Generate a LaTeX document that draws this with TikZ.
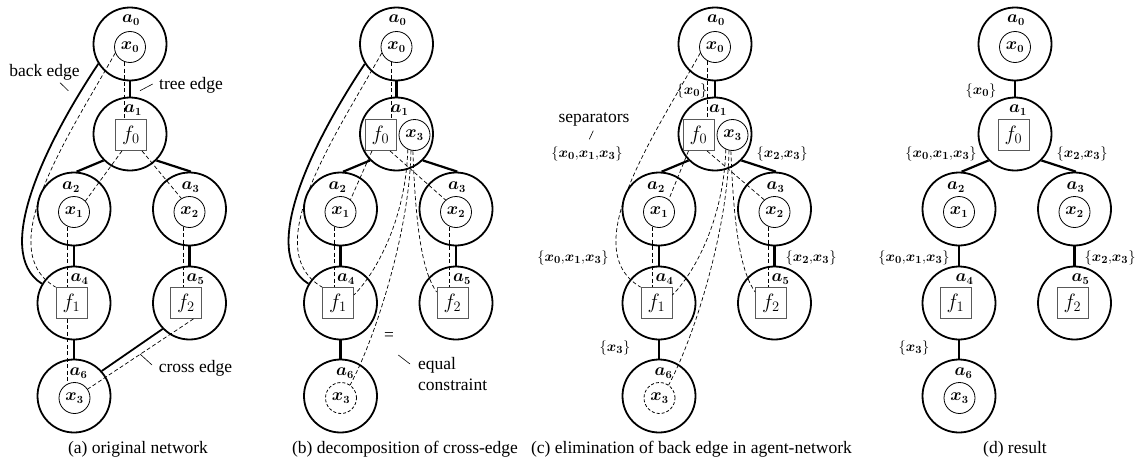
\documentclass[tikz,border=0pt]{standalone}
\usepackage{amsmath}
\usepackage[no-math]{fontspec}
\setmainfont{Liberation Serif}
\usetikzlibrary{calc}

\newcommand{\mfont}{\fontsize{16}{19}\selectfont\boldmath}
\newcommand{\ffont}{\fontsize{20}{23}\selectfont}
\newcommand{\sfont}{\fontsize{15}{18}\selectfont}
\newcommand{\tfont}{\fontsize{17.5}{21}\selectfont}
\newcommand{\bx}[1]{\boldsymbol{x_{#1}}}
\newcommand{\cm}{\mathord{,}}

\tikzset{
  agent/.style={circle, draw, line width=1.8pt, minimum size=73pt, inner sep=0pt},
  var/.style={circle, draw, line width=0.8pt, minimum size=31pt, inner sep=0pt, font=\mfont},
  dvar/.style={var, dash pattern=on 3pt off 2pt},
  fac/.style={rectangle, draw=black!65, line width=0.8pt, minimum size=31pt, inner sep=0pt, font=\ffont},
  tree/.style={line width=2.2pt},
  thickline/.style={line width=1.8pt},
  con/.style={line width=0.7pt, dash pattern=on 4pt off 2.5pt},
  lab/.style={inner sep=0pt, font=\mfont},
  sep/.style={inner sep=0pt, font=\sfont},
  txt/.style={inner sep=0pt, font=\tfont},
  lead/.style={line width=0.6pt},
}

% agents a0..a6 of one panel, their names and the tree edges between them
\newcommand{\agents}[1]{%
  \node[agent] (#1a0) at (0,44) {};
  \node[agent] (#1a1) at (0,134) {};
  \node[agent] (#1a2) at (-56,209) {};
  \node[agent] (#1a3) at (59.5,209) {};
  \node[agent] (#1a4) at (-56,303) {};
  \node[agent] (#1a5) at (59.5,303) {};
  \node[agent] (#1a6) at (-56,396) {};
  \node[lab] (#1l0) at ([shift={(1,-24)}]#1a0.center) {$a_0$};
  \node[lab] (#1l1) at ([shift={(3,-24)}]#1a1.center) {$a_1$};
  \node[lab] (#1l2) at ([shift={(-3,-22)}]#1a2.center) {$a_2$};
  \node[lab] (#1l3) at ([shift={(1,-22)}]#1a3.center) {$a_3$};
  \node[lab] (#1l4) at ([shift={(5.5,-24)}]#1a4.center) {$a_4$};
  \node[lab] (#1l5) at ([shift={(6,-24)}]#1a5.center) {$a_5$};
  \node[lab] (#1l6) at ([shift={(4.5,-23)}]#1a6.center) {$a_6$};
  \draw[tree] (#1a0) -- (#1a1);
  \draw[tree] (#1a1.225) -- (#1a2.86);
  \draw[tree] (#1a1.315) -- (#1a3.88);
  \draw[tree] (#1a2) -- (#1a4);
  \draw[tree] (#1a3) -- (#1a5);
  \draw[tree] (#1a4) -- (#1a6);
}

\begin{document}
\begin{tikzpicture}[x=1pt,y=-1pt]
\useasboundingbox (0,0) rectangle (1135,463);

% ---------------- (a) original network ----------------
\begin{scope}[xshift=130pt]
  \agents{A}
  \node[var] (Ax0) at ([shift={(0,3)}]Aa0.center) {$x_0$};
  \node[fac] (Af0) at ([shift={(1,1)}]Aa1.center) {$f_0$};
  \node[var] (Ax1) at ([shift={(0,3)}]Aa2.center) {$x_1$};
  \node[var] (Ax2) at ([shift={(0,3)}]Aa3.center) {$x_2$};
  \node[fac] (Af1) at ([shift={(-2.5,0)}]Aa4.center) {$f_1$};
  \node[fac] (Af2) at ([shift={(-3.5,0)}]Aa5.center) {$f_2$};
  \node[var] (Ax3) at ([shift={(0.5,2)}]Aa6.center) {$x_3$};
  % constraints
  \draw[con] (Ax0.-109) -- (Ax0.-109 |- Af0.north);
  \draw[con] ([xshift=-9pt]Af0.south) -- (Ax1.44);
  \draw[con] ([xshift=11pt]Af0.south) -- (Ax2.121);
  \draw[con] (Ax1.-113) -- (Ax1.-113 |- Af1.north);
  \draw[con] (Ax2.-113) -- (Ax2.-113 |- Af2.north);
  \draw[con] (Ax3.117 |- Af1.south) -- (Ax3.117);
  % back edge
  \draw[thickline] (Aa0.212) .. controls +(-50,75) and +(-51,-32) .. (Aa4.149);
  \draw[con] (Ax0.202) .. controls +(-46.5,83) and +(-64.8,-37.8) .. (Af1.north west);
  % cross edge
  \draw[thickline] (Aa5.224) -- (Aa6.42);
  \draw[con] ([xshift=7.5pt]Af2.south) -- (Ax3.34);
  % annotations
  \node[txt] (Aback) at (-85.5,72) {back edge};
  \coordinate (Abk1) at (-70,82.7); \coordinate (Abk2) at (-61.7,90.7);
  \draw[lead] (Abk1) -- (Abk2);
  \node[txt] (Atree) at (61,85) {tree edge};
  \coordinate (Atr1) at (10,90.7); \coordinate (Atr2) at (22.7,84);
  \draw[lead] (Atr1) -- (Atr2);
  \node[txt] (Across) at (65.5,368) {cross edge};
  \coordinate (Acr1) at (10,354); \coordinate (Acr2) at (22,365);
  \draw[lead] (Acr1) -- (Acr2);
  \node[txt, anchor=base] (Acap) at (8,453) {(a) original network};
\end{scope}

% ---------------- (b) decomposition of cross-edge ----------------
\begin{scope}[xshift=396.5pt]
  \agents{B}
  \node[var] (Bx0) at ([shift={(0,3)}]Ba0.center) {$x_0$};
  \node[fac] (Bf0) at ([shift={(-16,1)}]Ba1.center) {$f_0$};
  \node[var] (Bx3) at ([shift={(18,1)}]Ba1.center) {$x_3$};
  \node[var] (Bx1) at ([shift={(0,3)}]Ba2.center) {$x_1$};
  \node[var] (Bx2) at ([shift={(0,3)}]Ba3.center) {$x_2$};
  \node[fac] (Bf1) at ([shift={(-2.5,0)}]Ba4.center) {$f_1$};
  \node[fac] (Bf2) at ([shift={(-3.5,0)}]Ba5.center) {$f_2$};
  \node[dvar] (By3) at ([shift={(0.5,2)}]Ba6.center) {$x_3$};
  % constraints
  \draw[con] (Bx0.-109) -- (Bx0.-109 |- Bf0.north);
  \draw[con] ([xshift=-8.5pt]Bf0.south) -- (Bx1.51);
  \draw[con] ([xshift=9.5pt]Bf0.south) -- (Bx2.131);
  \draw[con] (Bx1.-113) -- (Bx1.-113 |- Bf1.north);
  \draw[con] (Bx2.-113) -- (Bx2.-113 |- Bf2.north);
  \draw[con] (Bx3.-115) .. controls +(-2,70) and +(22,-22) .. ([yshift=8pt]Bf1.east);
  \draw[con] (Bx3.-103) .. controls +(-1,78) and +(26,-48) .. (By3.55);
  \draw[con] (Bx3.-96) .. controls +(3,80) and +(-14,-20) .. ([yshift=11pt]Bf2.west);
  % back edge
  \draw[thickline] (Ba0.212) .. controls +(-50,75) and +(-51,-32) .. (Ba4.149);
  \draw[con] (Bx0.202) .. controls +(-46.5,83) and +(-64.8,-37.8) .. (Bf1.north west);
  % annotations
  \node[txt] (Beq) at (-7.5,336.5) {=};
  \coordinate (Beq1) at (1.8,355); \coordinate (Beq2) at (13.5,364);
  \draw[lead] (Beq1) -- (Beq2);
  \node[txt, anchor=base west] (Bequal) at (21.5,369) {equal};
  \node[txt, anchor=base west] (Bconstr) at (21.5,390) {constraint};
  \node[txt, anchor=base] (Bcap) at (8.5,453) {(b) decomposition of cross-edge};
\end{scope}

% ---------------- (c) elimination of back edge ----------------
\begin{scope}[xshift=715pt]
  \agents{C}
  \node[var] (Cx0) at ([shift={(0,3)}]Ca0.center) {$x_0$};
  \node[fac] (Cf0) at ([shift={(-16.5,1)}]Ca1.center) {$f_0$};
  \node[var] (Cx3) at ([shift={(17.5,1)}]Ca1.center) {$x_3$};
  \node[var] (Cx1) at ([shift={(0,3)}]Ca2.center) {$x_1$};
  \node[var] (Cx2) at ([shift={(0,3)}]Ca3.center) {$x_2$};
  \node[fac] (Cf1) at ([shift={(-2.5,0)}]Ca4.center) {$f_1$};
  \node[fac] (Cf2) at ([shift={(-3.5,0)}]Ca5.center) {$f_2$};
  \node[dvar] (Cy3) at ([shift={(0.5,2)}]Ca6.center) {$x_3$};
  % constraints
  \draw[con] (Cx0.-117) -- (Cx0.-117 |- Cf0.north);
  \draw[con] ([xshift=-10pt]Cf0.south) -- (Cx1.52);
  \draw[con] ([xshift=8.5pt]Cf0.south) -- (Cx2.130);
  \draw[con] (Cx1.-113) -- (Cx1.-113 |- Cf1.north);
  \draw[con] (Cx2.-113) -- (Cx2.-113 |- Cf2.north);
  \draw[con] (Cx3.-115) .. controls +(-2,70) and +(22,-22) .. ([yshift=8pt]Cf1.east);
  \draw[con] (Cx3.-103) .. controls +(-1,78) and +(26,-48) .. (Cy3.55);
  \draw[con] (Cx3.-96) .. controls +(3,80) and +(-14,-20) .. ([yshift=11pt]Cf2.west);
  \draw[con] (Cx0.202) .. controls +(-46.5,83) and +(-64.8,-37.8) .. (Cf1.north west);
  % separators
  \node[sep] (Cs01) at (-23,91) {$\{\bx0\}$};
  \node[txt] (Csep) at (-121,119) {separators};
  \coordinate (Csp1) at (-125.7,139.3); \coordinate (Csp2) at (-121.7,130.7);
  \draw[lead] (Csp1) -- (Csp2);
  \node[sep] (Cs12) at (-128,153.5) {$\{\bx0\cm\bx1\cm\bx3\}$};
  \node[sep] (Cs13) at (67,153.5) {$\{\bx2\cm\bx3\}$};
  \node[sep] (Cs24) at (-142,258) {$\{\bx0\cm\bx1\cm\bx3\}$};
  \node[sep] (Cs35) at (96,258) {$\{\bx2\cm\bx3\}$};
  \node[sep] (Cs46) at (-100,348) {$\{\bx3\}$};
  \node[txt, anchor=base] (Ccap) at (-23.5,453) {(c) elimination of back edge in agent-network};
\end{scope}

% ---------------- (d) result ----------------
\begin{scope}[xshift=1015pt]
  \agents{D}
  \node[var] (Dx0) at ([shift={(0,3)}]Da0.center) {$x_0$};
  \node[fac] (Df0) at ([shift={(-1.5,1)}]Da1.center) {$f_0$};
  \node[var] (Dx1) at ([shift={(0,3)}]Da2.center) {$x_1$};
  \node[var] (Dx2) at ([shift={(0,3)}]Da3.center) {$x_2$};
  \node[fac] (Df1) at ([shift={(-3.5,0)}]Da4.center) {$f_1$};
  \node[fac] (Df2) at ([shift={(-2,0)}]Da5.center) {$f_2$};
  \node[var] (Dx3) at ([shift={(0.5,2)}]Da6.center) {$x_3$};
  % separators
  \node[sep] (Ds01) at (-34,91) {$\{\bx0\}$};
  \node[sep] (Ds12) at (-74,153.5) {$\{\bx0\cm\bx1\cm\bx3\}$};
  \node[sep] (Ds13) at (67,153.5) {$\{\bx2\cm\bx3\}$};
  \node[sep] (Ds24) at (-101,258) {$\{\bx0\cm\bx1\cm\bx3\}$};
  \node[sep] (Ds35) at (95,258) {$\{\bx2\cm\bx3\}$};
  \node[sep] (Ds46) at (-101,348) {$\{\bx3\}$};
  \node[txt, anchor=base] (Dcap) at (0,453) {(d) result};
\end{scope}
\end{tikzpicture}
\end{document}
